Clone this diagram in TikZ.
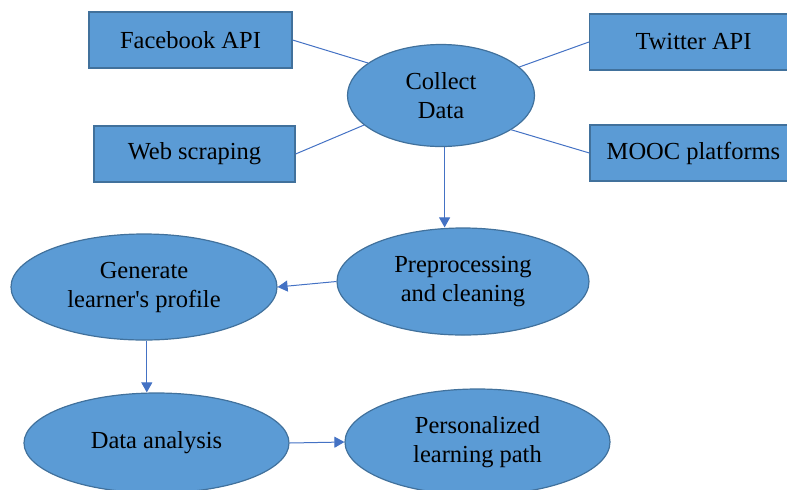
\documentclass[tikz,border=0pt]{standalone}
\usepackage{fontspec}
\setmainfont{Liberation Serif}
\usepackage{tikz}
\usetikzlibrary{arrows.meta,shapes.geometric}
\definecolor{ofill}{RGB}{91,155,213}
\definecolor{oedge}{RGB}{65,113,156}
\definecolor{oline}{RGB}{68,114,196}
\tikzset{
  srcbox/.style={rectangle,draw=oedge,line width=0.6pt,fill=ofill,
                 minimum width=#1,minimum height=28pt,inner sep=0pt,
                 font=\fontsize{12.25}{14.5}\selectfont},
  srcbox/.default=101.5pt,
  stepell/.style={ellipse,draw=oedge,line width=0.6pt,fill=ofill,
                  minimum width=#1,inner sep=0pt,align=center,
                  font=\fontsize{12.25}{14.5}\selectfont},
  stepell/.default=132.5pt,
  link/.style={color=oline,line width=0.5pt},
  arr/.style={-{Triangle[length=5pt,width=5.5pt]},color=oline,line width=0.5pt},
}
\begin{document}
\begin{tikzpicture}[x=0.5pt,y=-0.5pt]
    \useasboundingbox (0,0) rectangle (787,489);

    % data sources
    \node[srcbox] (fb) at (190.5,40) {Facebook API};
    \node[srcbox=100.5pt] (ws) at (194.5,154) {Web scraping};
    \node[srcbox=104pt] (tw) at (693.5,42) {Twitter API};
    \node[srcbox=103.5pt] (mooc) at (693.5,153) {MOOC platforms};

    % processing steps
    \node[stepell=93.5pt, minimum height=51pt] (cd) at (441,95.5) {Collect\\Data};
    \node[stepell=126pt, minimum height=53.5pt] (pre) at (463,281.5) {Preprocessing\\and cleaning};
    \node[stepell=133pt, minimum height=53pt] (gen) at (144,287) {Generate\\learner\textquotesingle s profile};
    \node[stepell, minimum height=50pt] (da) at (156.5,443) {Data analysis};
    \node[stepell, minimum height=53pt] (pl) at (477.5,442) {Personalized\\learning path};

    % links
    \draw[link] (fb.east) -- (cd.156);
    \draw[link] (ws.east) -- (cd.201);
    \draw[link] (tw.west) -- (cd.20);
    \draw[link] (mooc.west) -- (cd.334);

    % arrows
    \draw[arr] (cd.-86) -- (cd.-86 |- pre.north);
    \draw[arr] (pre.west) -- (gen.east);
    \draw[arr] (gen.-87) -- (gen.-87 |- da.north);
    \draw[arr] (da.east) -- (pl.west);
\end{tikzpicture}
\end{document}
